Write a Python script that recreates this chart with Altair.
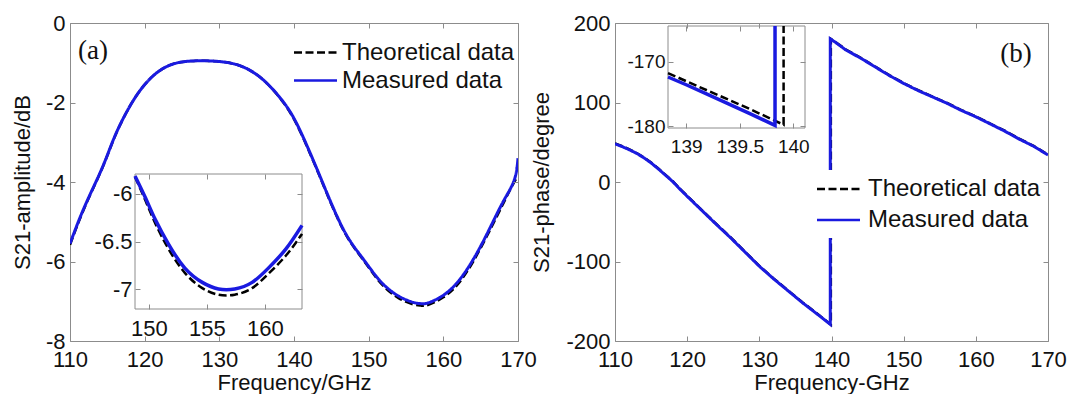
import altair as alt
import pandas as pd

SERIES = ["Theoretical data", "Measured data"]

# ---------------- panel (a): S21 amplitude ----------------
amp_freq = [110, 112, 114.3, 116, 118, 120, 122, 124, 126, 128, 130, 132, 134, 136, 138, 140,
            142, 143.8, 146.5, 148.8, 150.5, 152, 154, 156, 157, 158, 160, 162, 164, 166, 168, 169.5, 170]
amp_theo = [-5.58, -4.62, -3.66, -2.86, -2.1, -1.55, -1.2, -1.02, -0.96, -0.95, -0.97, -1.03, -1.18, -1.45, -1.86, -2.42,
            -3.22, -4.02, -5.17, -5.84, -6.28, -6.62, -6.92, -7.08, -7.11, -7.09, -6.9, -6.56, -6.0, -5.3, -4.55, -4.0, -3.9]
amp_meas = [-5.55, -4.6, -3.65, -2.85, -2.1, -1.55, -1.2, -1.02, -0.96, -0.95, -0.97, -1.03, -1.18, -1.45, -1.85, -2.4,
            -3.2, -4.0, -5.15, -5.82, -6.25, -6.58, -6.87, -7.03, -7.06, -7.04, -6.85, -6.5, -5.95, -5.25, -4.5, -3.95, -3.4]

# inset of (a)
ina_freq = [148.8, 149.7, 150.55, 151.7, 153.1, 154.6, 156.0, 157.4, 158.9, 160.3, 161.8, 163.2]
ina_theo = [-5.82, -6.07, -6.31, -6.58, -6.83, -6.99, -7.06, -7.06, -6.99, -6.84, -6.65, -6.42]
ina_meas = [-5.81, -6.04, -6.27, -6.53, -6.78, -6.93, -7.00, -7.00, -6.93, -6.78, -6.58, -6.33]

# ---------------- panel (b): S21 phase ----------------
ph_theo_freq = [110, 111, 112, 113, 114, 115, 116, 117, 118, 119, 120, 122, 124, 126, 128, 130, 132, 134, 136, 138,
                139.91, 139.91, 140.5, 142, 144, 146, 148, 150, 152, 154, 156, 158, 160, 162, 164, 166, 168, 170]
ph_theo = [48.5, 45, 41, 36.5, 31, 24.5, 17, 9, 1, -8.5, -17.5, -35, -52.5, -69.5, -87.5, -105.5, -121.5, -136.5, -151.5,
           -165.5, -179.5, 180, 176.5, 166.5, 156.5, 145.5, 134.5, 124.5, 115.5, 107.5, 99.5, 90.5, 82.5, 73.5, 64.5,
           54.5, 45.5, 34.5]
ph_meas_freq = [110, 111, 112, 113, 114, 115, 116, 117, 118, 119, 120, 122, 124, 126, 128, 130, 132, 134, 136, 138,
                139.83, 139.83, 140.5, 142, 144, 146, 148, 150, 152, 154, 156, 158, 160, 162, 164, 166, 168, 170]
ph_meas = [48, 44.5, 40.5, 36, 30.5, 24, 16.5, 8.5, 0.5, -9, -18, -35.5, -53, -70, -88, -106, -122, -137, -152,
           -166, -179, 180, 176, 166, 156, 145, 134, 124, 115, 107, 99, 90, 82, 73, 64, 54, 45, 34]

# inset of (b)
inb_theo_freq = [138.83, 139.2, 139.6, 139.91, 139.91]
inb_theo = [-171.8, -174.5, -177.4, -179.8, 180]
inb_meas_freq = [138.83, 139.0, 139.2, 139.4, 139.6, 139.83, 139.83]
inb_meas = [-172.4, -173.6, -175.1, -176.6, -178.1, -179.9, 180]

# axes ticks / domains
freq_ticks = [110, 120, 130, 140, 150, 160, 170]
amp_ticks = [-8, -6, -4, -2, 0]
ph_ticks = [-200, -100, 0, 100, 200]
ina_xticks = [150, 155, 160]
ina_yticks = [-7, -6.5, -6]
inb_xticks = [139, 139.5, 140]
inb_yticks = [-180, -170]
amp_xdom = [110, 170]
amp_ydom = [-8, 0]
ph_ydom = [-200, 200]
ina_xdom = [148.8, 163.2]
ina_ydom = [-7.21, -5.79]
inb_xdom = [138.83, 140.11]
inb_ydom = [-180.3, -164.5]

BLACK = "#000000"
BLUE = "#1a1ae0"
FRAME = "#8c8c8c"
TXT = "#111111"
FONT = "Liberation Sans"
SERIF = "Liberation Serif"
DASH = [8, 3.5]

COLOR_SCALE = alt.Scale(domain=SERIES, range=[BLACK, BLUE])
DASH_SCALE = alt.Scale(domain=SERIES, range=[DASH, [1, 0]])


def table(freq, vals, name):
    return pd.DataFrame({"f": freq, "v": vals, "series": name, "idx": list(range(len(freq)))})


def tick_axis(orient, offset, values):
    return alt.Axis(orient=orient, offset=offset, values=values, labels=False, domain=False, grid=False,
                    ticks=True, tickSize=5, tickColor=FRAME, tickWidth=1, title=None, zindex=2)


def tick_helpers(df, xs, ys, xticks, yticks, box, W, H):
    # box = (left, right, top, bottom) in plot pixels; inward ticks on all four sides
    x0, x1, y0, y1 = box
    a = alt.Chart(df).mark_line(opacity=0).encode(
        x=alt.X("f:Q", scale=xs, axis=tick_axis("top", -y1, xticks)),
        y=alt.Y("v:Q", scale=ys, axis=tick_axis("right", -(W - x0), yticks)))
    b = alt.Chart(df).mark_line(opacity=0).encode(
        x=alt.X("f:Q", scale=xs, axis=tick_axis("bottom", -(H - y0), xticks)),
        y=alt.Y("v:Q", scale=ys, axis=tick_axis("left", -x1, yticks)))
    return [a, b]


def main_layer(dft, dfm, xdom, ydom, yticks, xtitle, ytitle, ytp, W, H, interp):
    xs = alt.Scale(domain=xdom, nice=False, zero=False)
    ys = alt.Scale(domain=ydom, nice=False, zero=False)
    xax = alt.Axis(values=freq_ticks, title=xtitle, orient="bottom", labelFlush=False, domain=False,
                   ticks=False, tickSize=0, grid=False, labelPadding=8, titlePadding=2,
                   labelExpr="datum.value + ''", labelFontSize=22, titleFontSize=22)
    yax = alt.Axis(values=yticks, title=ytitle, orient="left", labelFlush=False, domain=False,
                   ticks=False, tickSize=0, grid=False, labelPadding=5, titlePadding=ytp,
                   labelExpr="datum.value + ''", labelFontSize=22, titleFontSize=22)
    color = alt.Color("series:N", scale=COLOR_SCALE, legend=None)
    dash = alt.StrokeDash("series:N", scale=DASH_SCALE, legend=None)
    theo = alt.Chart(dft).mark_line(strokeWidth=2.5, clip=True, interpolate=interp).encode(
        x=alt.X("f:Q", scale=xs, axis=xax), y=alt.Y("v:Q", scale=ys, axis=yax),
        color=color, strokeDash=dash, order="idx:Q")
    meas = alt.Chart(dfm).mark_line(strokeWidth=3, clip=True, interpolate=interp).encode(
        x=alt.X("f:Q", scale=xs, axis=None), y=alt.Y("v:Q", scale=ys, axis=None),
        color=color, strokeDash=dash, order="idx:Q")
    helpers = tick_helpers(dft, xs, ys, freq_ticks, yticks, (0, W, 0, H), W, H)
    return alt.layer(theo, meas, *helpers).resolve_axis(x="independent", y="independent")


def inset_layer(dft, dfm, xdom, ydom, box, xticks, yticks, fs, W, H, interp):
    x0, x1, y0, y1 = box
    xs = alt.Scale(domain=xdom, range=[x0, x1], nice=False, zero=False, clamp=True)
    ys = alt.Scale(domain=ydom, range=[y1, y0], nice=False, zero=False, clamp=True)
    xax = alt.Axis(values=xticks, title=None, orient="bottom", offset=-(H - y1), labelFlush=False, domain=False,
                   ticks=False, tickSize=0, grid=False, labelPadding=9, labelFontSize=fs,
                   labelExpr="datum.value + ''")
    yax = alt.Axis(values=yticks, title=None, orient="left", offset=-x0, labelFlush=False, domain=False,
                   ticks=False, tickSize=0, grid=False, labelPadding=3, labelFontSize=fs,
                   labelExpr="datum.value + ''")
    frame = pd.DataFrame({"x0": [xdom[0]], "x1": [xdom[1]], "y0": [ydom[0]], "y1": [ydom[1]]})
    rect = alt.Chart(frame).mark_rect(fill="white", stroke=FRAME, strokeWidth=1).encode(
        x=alt.X("x0:Q", scale=xs, axis=xax), x2="x1",
        y=alt.Y("y0:Q", scale=ys, axis=yax), y2="y1")
    theo = alt.Chart(dft).mark_line(color=BLACK, strokeDash=DASH, strokeWidth=2.5, interpolate=interp).encode(
        x=alt.X("f:Q", scale=xs, axis=None), y=alt.Y("v:Q", scale=ys, axis=None), order="idx:Q")
    meas = alt.Chart(dfm).mark_line(color=BLUE, strokeWidth=3.5, interpolate=interp).encode(
        x=alt.X("f:Q", scale=xs, axis=None), y=alt.Y("v:Q", scale=ys, axis=None), order="idx:Q")
    helpers = tick_helpers(dft, xs, ys, xticks, yticks, box, W, H)
    return alt.layer(rect, theo, meas, *helpers).resolve_axis(x="independent", y="independent")


def legend_layer(bg_box, rows_y, sample_x, text_x):
    df = pd.DataFrame({"series": SERIES, "row": [0, 1]})
    ys = alt.Scale(domain=[0, 1], range=rows_y)
    bg = alt.Chart(pd.DataFrame({"k": [0]})).mark_rect(fill="white").encode(
        x=alt.value(bg_box[0]), x2=alt.value(bg_box[1]), y=alt.value(bg_box[2]), y2=alt.value(bg_box[3]))
    rules = alt.Chart(df).mark_rule(strokeWidth=2.5).encode(
        x=alt.value(sample_x[0]), x2=alt.value(sample_x[1]),
        y=alt.Y("row:Q", scale=ys, axis=None),
        color=alt.Color("series:N", scale=COLOR_SCALE, legend=None),
        strokeDash=alt.StrokeDash("series:N", scale=DASH_SCALE, legend=None))
    texts = alt.Chart(df).mark_text(align="left", baseline="middle", fontSize=24, font=FONT, color=TXT).encode(
        x=alt.value(text_x), y=alt.Y("row:Q", scale=ys, axis=None), text="series:N")
    return alt.layer(bg, rules, texts)


def panel_label(txt, px, py):
    return alt.Chart(pd.DataFrame({"t": [txt]})).mark_text(
        font=SERIF, fontSize=27, color=TXT, align="center", baseline="middle").encode(
        text="t:N", x=alt.value(px), y=alt.value(py))


WA, WB, H = 448, 433, 318

main_a = main_layer(table(amp_freq, amp_theo, SERIES[0]), table(amp_freq, amp_meas, SERIES[1]),
                    amp_xdom, amp_ydom, amp_ticks, "Frequency/GHz", "S21-amplitude/dB", 11, WA, H, "natural")
inset_a = inset_layer(table(ina_freq, ina_theo, SERIES[0]), table(ina_freq, ina_meas, SERIES[1]),
                      ina_xdom, ina_ydom, (65, 232, 151, 286), ina_xticks, ina_yticks, 22, WA, H, "natural")
legend_a = legend_layer((218, 446, 14, 72), [29.5, 57.5], (224, 267), 272)
panel_a = alt.layer(main_a, inset_a, legend_a, panel_label("(a)", 23, 28)).resolve_scale(
    x="independent", y="independent").resolve_axis(x="independent", y="independent").properties(
    width=WA, height=H)

main_b = main_layer(table(ph_theo_freq, ph_theo, SERIES[0]), table(ph_meas_freq, ph_meas, SERIES[1]),
                    amp_xdom, ph_ydom, ph_ticks, "Frequency-GHz", "S21-phase/degree", 12, WB, H, "linear")
inset_b = inset_layer(table(inb_theo_freq, inb_theo, SERIES[0]), table(inb_meas_freq, inb_meas, SERIES[1]),
                      inb_xdom, inb_ydom, (53, 190, 3, 105), inb_xticks, inb_yticks, 19, WB, H, "linear")
legend_b = legend_layer((194, 428, 147, 215), [166, 197], (202, 245), 253)
panel_b = alt.layer(main_b, inset_b, legend_b, panel_label("(b)", 401, 31)).resolve_scale(
    x="independent", y="independent").resolve_axis(x="independent", y="independent").properties(
    width=WB, height=H)

chart = alt.hconcat(panel_a, panel_b, spacing=97, bounds="flush").properties(
    padding={"left": 2, "top": 3, "right": 5, "bottom": 0}).configure_view(
    stroke=FRAME, strokeWidth=1).configure_axis(
    labelFont=FONT, titleFont=FONT, labelColor=TXT, titleColor=TXT, titleFontWeight="normal")

chart.save("out.html", embed_options={"renderer": "svg", "actions": False})
